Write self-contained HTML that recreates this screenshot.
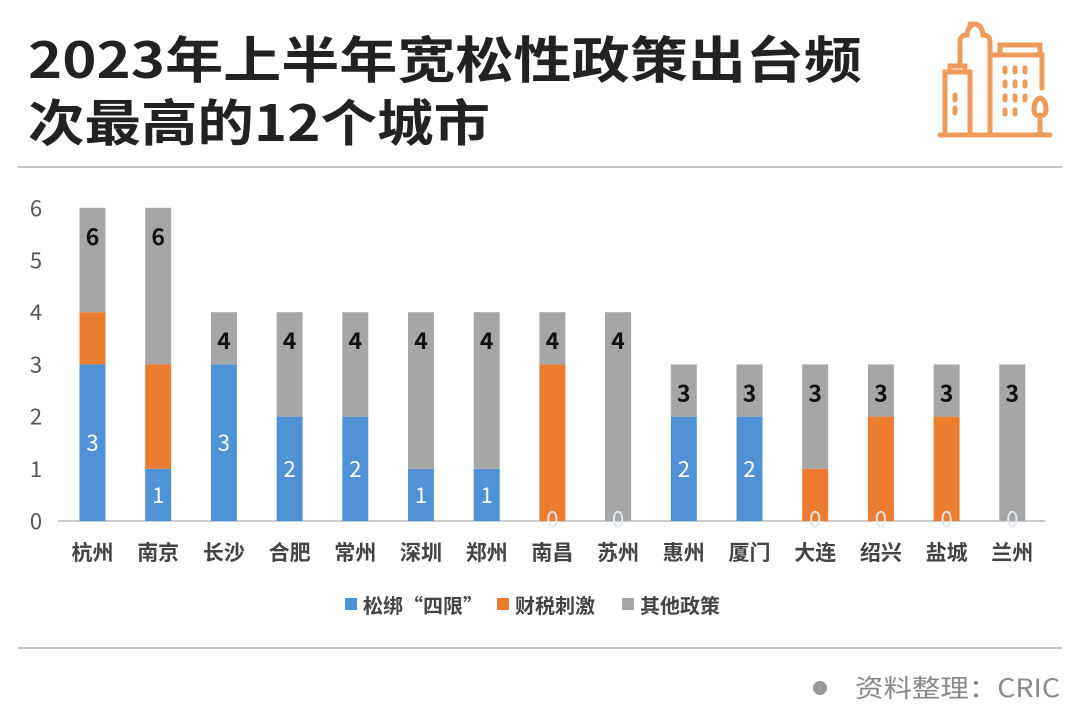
<!DOCTYPE html>
<html><head><meta charset="utf-8"><style>
body{margin:0;background:#fff;width:1080px;height:721px;overflow:hidden;font-family:"Liberation Sans","Noto Sans CJK SC",sans-serif}
svg{display:block}
</style></head><body>
<svg width="1080" height="721" xmlns="http://www.w3.org/2000/svg">
<text x="28" y="78" font-size="50" font-weight="bold" fill="#222" font-family="Noto Sans CJK SC, sans-serif" textLength="834" lengthAdjust="spacingAndGlyphs">2023年上半年宽松性政策出台频</text>
<text x="28" y="141" font-size="50" font-weight="bold" fill="#222" font-family="Noto Sans CJK SC, sans-serif" textLength="462" lengthAdjust="spacingAndGlyphs">次最高的12个城市</text>
<g fill="none" stroke="#ee9a5a" stroke-width="5" stroke-linecap="round">
<line x1="940" y1="135" x2="1050" y2="135"/>
<path d="M945 135 V72 H970 V135"/><path d="M950 72 V66 H965 V72"/>
<path d="M955 95 V100 M955 108 V113"/>
<path d="M960 66 V42 Q960 35 967 35 Q968 25 975 24 L970 24 M975 24 Q982 25 983 35 Q990 35 990 42 V135"/>
<path d="M990 55 H1042 V88"/><path d="M1000 55 V45 H1040 V55"/>
<path d="M1005 68V72M1015 68V72M1025 68V72M1005 82V86M1015 82V86M1025 82V86M1005 96V100M1015 96V100M1025 96V100M1005 110V114M1015 110V114"/>
<path d="M1040 135 V115 M1040 98 Q1046 100 1046 110 Q1046 116 1040 116 Q1034 116 1034 110 Q1034 100 1040 98Z"/>
</g>
<line x1="18" y1="167" x2="1062" y2="167" stroke="#888" stroke-width="1"/>
<g id="chart"></g>
<line x1="18" y1="648" x2="1062" y2="648" stroke="#888" stroke-width="1"/>
<circle cx="820" cy="688" r="7" fill="#999"/>
<text x="1060" y="697" text-anchor="end" font-size="25" fill="#888" font-family="Noto Sans CJK SC, sans-serif" textLength="205" lengthAdjust="spacingAndGlyphs">资料整理：CRIC</text>
</svg>
<script>
const cities=["杭州","南京","长沙","合肥","常州","深圳","郑州","南昌","苏州","惠州","厦门","大连","绍兴","盐城","兰州"];
const blueVals=[3,1,3,2,2,1,1,0,0,2,2,0,0,0,0];
const orangeVals=[1,2,0,0,0,0,0,3,0,0,0,1,2,2,0];
const grayVals=[2,3,1,2,2,3,3,1,4,1,1,2,1,1,3];
const yTicks=[0,1,2,3,4,5,6];
const NS="http://www.w3.org/2000/svg";
const g=document.getElementById('chart');
const y0=521,unit=52.2,x0=92.5,step=65.7,bw=26;
const Y=v=>y0-v*unit, X=i=>x0+i*step;
function mk(t,a,p){const e=document.createElementNS(NS,t);for(const k in a)e.setAttribute(k,a[k]);(p||g).appendChild(e);return e;}
const F="Noto Sans CJK SC, sans-serif";
yTicks.forEach(v=>{const t=mk('text',{x:36,y:Y(v)+8,'text-anchor':'middle','font-size':22,fill:'#555','font-family':F});t.textContent=v;

});
mk('line',{x1:58,y1:y0,x2:1045,y2:y0,stroke:'#ccc','stroke-width':2});
cities.forEach((c,i)=>{
 const x=X(i)-bw/2;const b=blueVals[i],o=orangeVals[i],gr=grayVals[i],tot=b+o+gr;
 let r=mk('rect',{x:x,y:Y(b),width:bw,height:b*unit,fill:'#4f93d6'});
 
 
 r=mk('rect',{x:x,y:Y(b+o),width:bw,height:o*unit,fill:'#ec7c30'});
 
 
 r=mk('rect',{x:x,y:Y(tot),width:bw,height:gr*unit,fill:'#a6a6a6'});
 
 
 let t=mk('text',{x:X(i),y:b>0?Y(b/2)+8:y0+6,'text-anchor':'middle','font-size':22,fill:b>0?'#fff':'#e0e8f4','font-family':F});t.textContent=b;
 
 
 t=mk('text',{x:X(i),y:Y(tot)+37,'text-anchor':'middle','font-size':23,'font-weight':'bold',fill:'#111','font-family':F});t.textContent=tot;
 
 
 t=mk('text',{x:X(i),y:560,'text-anchor':'middle','font-size':21,'font-weight':'bold',fill:'#444','font-family':F});t.textContent=c;
 
 
});
const leg=[["松绑“四限”","#4f93d6",345],["财税刺激","#ec7c30",497],["其他政策","#a6a6a6",622]];
leg.forEach(l=>{const r=mk('rect',{x:l[2],y:598,width:12,height:12,fill:l[1]});


const t=mk('text',{x:l[2]+18,y:613,'font-size':20,'font-weight':'bold',fill:'#444','font-family':F});t.textContent=l[0];

});
</script>
</body></html>
